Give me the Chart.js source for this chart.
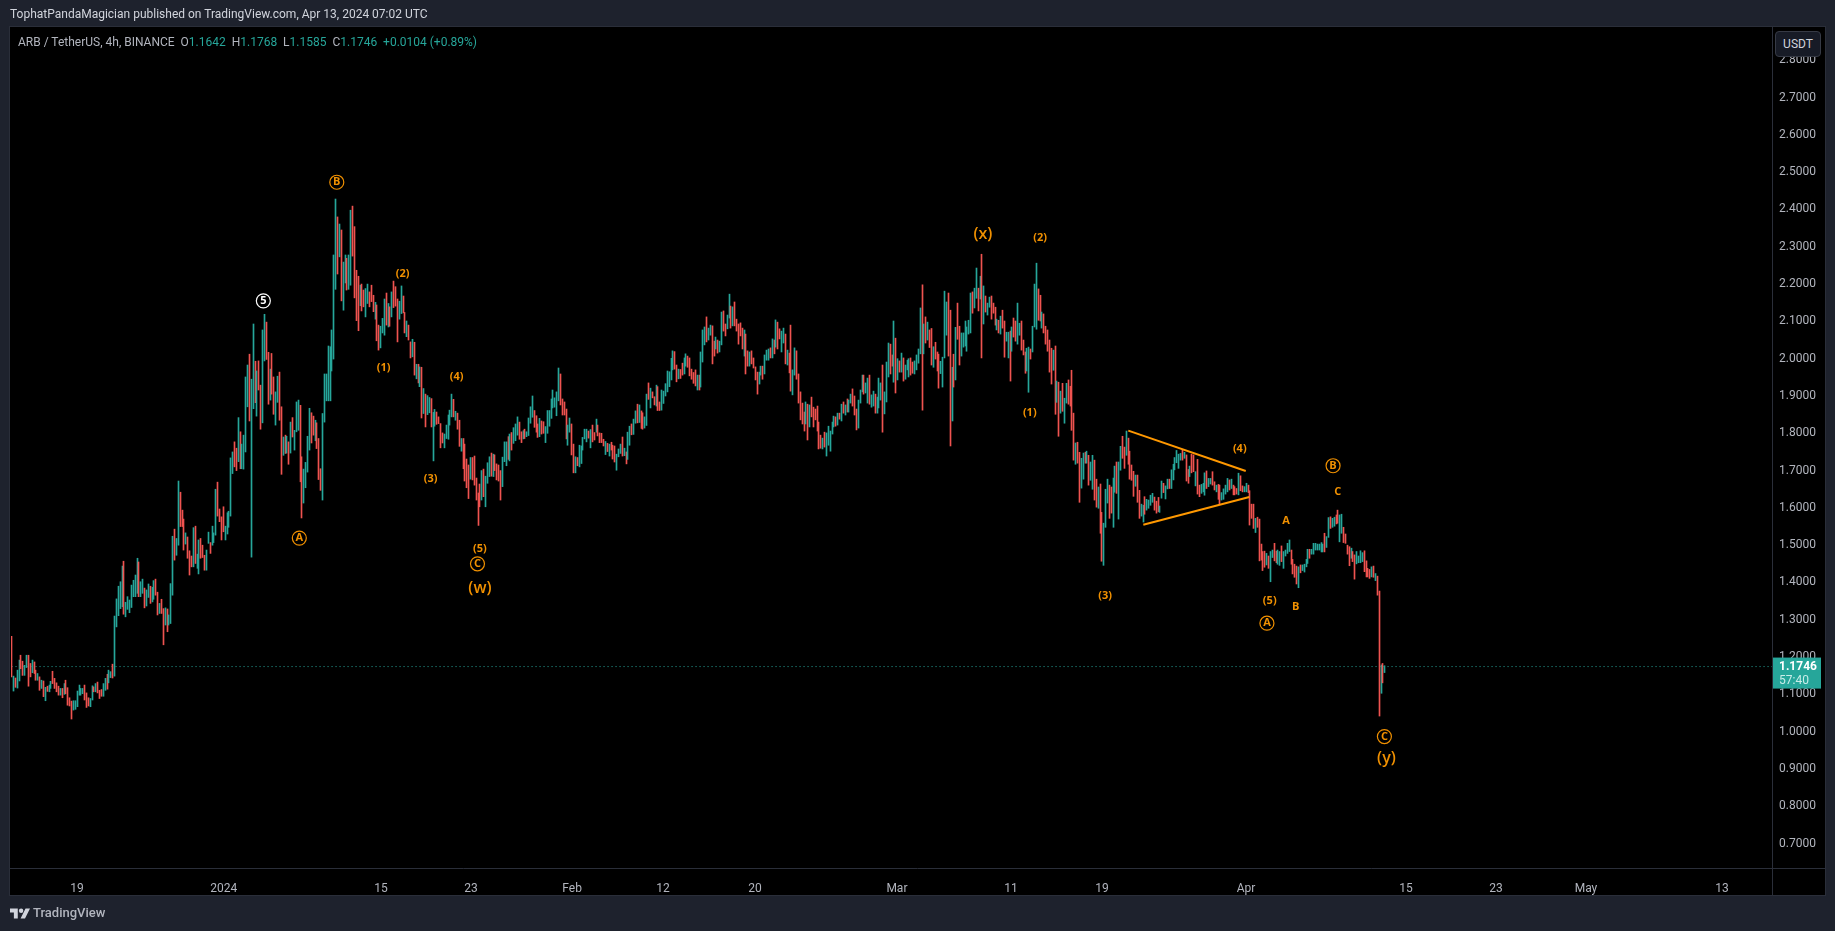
<!DOCTYPE html>
<html>
<head>
<meta charset="utf-8">
<title>ARB / TetherUS</title>
<script src="https://cdn.jsdelivr.net/npm/chart.js@4"></script>
<style>
html, body { margin: 0; padding: 0; background: #1e222d; overflow: hidden; }
body { width: 1835px; height: 931px; position: relative; font-family: Roboto, sans-serif; font-size: 12px; }
canvas { position: absolute; left: 0; top: 0; }
.txt { position: absolute; white-space: pre; }
#head { left: 10px; top: 7px; color: #d1d4dc; }
#legend { left: 18px; top: 35px; color: #b2b5be; }
#legend b { font-weight: 400; color: #26a69a; }
#cur { left: 1775px; top: 31px; width: 44px; height: 24px; line-height: 24px; text-align: center; color: #d1d4dc;
  background: #171b26; border: 1px solid #363a45; border-radius: 4px; }
#logo { left: 10px; top: 906px; }
#brand { left: 33px; top: 905px; color: #b2b5be; font-size: 13px; font-weight: 500; }
</style>
</head>
<body>
<canvas id="chart" width="1835" height="931"></canvas>
<div class="txt" id="head">TophatPandaMagician published on TradingView.com, Apr 13, 2024 07:02 UTC</div>
<div class="txt" id="legend">ARB / TetherUS, 4h, BINANCE  O<b>1.1642</b>  H<b>1.1768</b>  L<b>1.1585</b>  C<b>1.1746</b>  <b>+0.0104 (+0.89%)</b></div>
<div class="txt" id="cur">USDT</div>
<svg class="txt" id="logo" width="20" height="14" viewBox="0 0 36 24"><path fill="#d1d4dc" d="M14 4H0v7h7v11h7zM28 4h8l-9 18h-8z"/><circle fill="#d1d4dc" cx="20" cy="8" r="4"/></svg>
<div class="txt" id="brand">TradingView</div>
<script>
// one entry per 4h bar
var highs = [
1.256,1.149,1.144,1.165,1.192,1.205,1.189,1.178,1.205,1.205,
1.183,1.192,1.187,1.165,1.156,1.147,1.138,1.136,1.119,1.122,
1.125,1.135,1.162,1.143,1.131,1.122,1.116,1.116,1.129,1.138,
1.118,1.091,1.082,1.083,1.083,1.109,1.125,1.116,1.116,1.125,
1.104,1.091,1.089,1.123,1.120,1.129,1.133,1.111,1.113,1.129,
1.143,1.154,1.165,1.161,1.181,1.310,1.356,1.390,1.402,1.444,
1.457,1.347,1.362,1.353,1.393,1.406,1.420,1.465,1.455,1.402,
1.409,1.385,1.380,1.396,1.390,1.387,1.405,1.409,1.374,1.344,
1.355,1.330,1.332,1.329,1.313,1.397,1.524,1.543,1.518,1.672,
1.642,1.594,1.570,1.533,1.522,1.485,1.471,1.547,1.551,1.476,
1.514,1.518,1.500,1.473,1.487,1.535,1.507,1.551,1.533,1.650,
1.669,1.597,1.576,1.603,1.551,1.587,1.591,1.734,1.750,1.777,1.760,1.842,
1.804,1.771,1.795,1.951,1.983,2.012,1.945,2.093,1.993,1.967,
1.994,1.929,2.077,2.119,2.098,2.017,1.972,2.014,1.951,1.911,
1.953,1.964,1.871,1.790,1.795,1.792,1.777,1.830,1.842,1.808,
1.884,1.889,1.875,1.737,1.704,1.722,1.792,1.867,1.855,1.846,
1.835,1.828,1.786,1.705,1.853,1.959,1.959,2.034,2.032,2.077,
2.278,2.428,2.380,2.361,2.345,2.259,2.278,2.269,2.278,2.398,
2.409,2.354,2.237,2.221,2.197,2.200,2.184,2.188,2.200,2.179,
2.197,2.170,2.151,2.144,2.090,2.087,2.108,2.160,2.176,2.148,
2.139,2.179,2.208,2.193,2.160,2.154,2.195,2.168,2.124,2.101,
2.090,2.045,2.052,2.044,1.985,1.985,1.978,1.977,1.920,1.905,
1.901,1.896,1.893,1.856,1.864,1.857,1.844,1.826,1.801,1.798,
1.822,1.849,1.862,1.905,1.891,1.859,1.854,1.835,1.786,1.786,
1.771,1.731,1.715,
1.735,1.735,1.739,1.680,1.640,1.664,1.700,1.704,1.685,1.721,
1.737,1.747,1.744,1.742,1.718,1.715,1.700,1.736,1.777,1.777,
1.791,1.798,1.802,1.815,1.825,1.844,1.830,1.804,1.807,1.811,
1.804,1.841,1.871,1.900,1.861,1.847,1.825,1.840,1.833,1.831,
1.818,1.861,1.861,1.892,1.916,1.895,1.911,1.975,1.959,1.892,
1.884,1.865,1.822,1.841,1.825,1.771,1.737,1.735,1.768,1.766,
1.789,1.811,1.811,1.806,1.810,1.822,1.802,1.838,1.822,1.801,
1.800,1.784,1.778,1.773,1.771,1.776,1.768,1.766,1.744,1.758,
1.771,1.790,1.760,1.750,1.803,1.819,1.825,1.838,1.860,1.878,
1.876,1.860,1.855,1.844,1.905,1.935,1.921,1.911,1.898,1.929,
1.925,1.884,1.916,1.913,1.933,1.967,1.965,2.001,2.021,2.019,
1.983,1.972,1.971,1.988,2.002,2.013,2.007,2.002,1.972,1.963,1.970,1.956,
1.956,2.018,2.077,2.085,2.112,2.082,2.090,2.088,2.047,2.058,
2.050,2.047,2.125,2.128,2.093,2.117,2.173,2.141,2.139,2.152,
2.106,2.093,2.096,2.082,2.077,2.066,2.021,2.018,2.021,2.002,
1.978,1.964,1.964,1.980,1.980,2.010,2.023,2.026,2.029,2.053,
2.050,2.104,2.098,2.080,2.074,2.082,2.066,2.023,2.015,2.090,
1.970,2.029,2.021,1.959,1.911,1.881,1.857,1.884,1.878,1.876,
1.897,1.870,1.865,1.873,1.830,1.795,1.787,1.803,1.801,1.819,
1.806,1.830,1.846,1.844,1.854,1.854,1.878,1.884,1.876,1.892,
1.889,1.905,1.919,1.900,1.865,1.889,1.916,1.956,1.956,1.935,
1.948,1.956,1.903,1.913,1.905,1.897,1.948,1.935,1.983,1.911,
1.991,2.042,2.039,2.010,2.101,2.055,2.000,1.994,2.015,2.002,
1.983,1.996,2.000,2.002,1.991,1.994,2.010,2.026,2.136,2.198,2.093,2.112,2.098,
2.077,2.081,2.032,2.044,2.018,2.012,1.993,2.004,2.181,2.152,
2.176,2.130,1.977,2.012,2.084,2.149,2.087,2.069,2.069,2.101,
2.085,2.103,2.176,2.179,2.189,2.243,2.189,2.221,2.280,2.195,
2.168,2.149,2.165,2.168,2.149,2.138,2.106,2.103,2.114,2.130,
2.101,2.071,2.071,2.074,2.085,2.109,2.101,2.149,2.095,2.101,
2.050,2.018,2.028,2.031,2.026,2.087,2.200,2.256,2.187,2.170,
2.125,2.120,2.087,2.077,2.050,2.028,2.023,2.034,1.940,1.937,
1.913,1.934,1.894,1.934,1.943,1.926,1.969,1.854,1.774,1.776,
1.749,1.733,1.747,1.749,1.752,1.741,1.723,1.741,1.728,1.677,
1.656,1.664,1.588,1.559,1.650,1.677,1.661,1.656,1.680,1.712,
1.723,1.723,1.765,1.792,1.763,1.806,1.787,1.752,1.715,1.698,
1.688,1.688,1.647,1.610,1.607,1.630,1.623,1.621,1.634,1.639,1.629,1.618,
1.628,1.605,1.672,1.666,1.659,1.677,1.677,1.702,1.717,1.735,
1.754,1.744,1.746,1.757,1.749,1.742,1.703,1.712,1.744,1.742,
1.697,1.730,1.661,1.663,1.666,1.694,1.699,1.679,1.679,1.697,
1.670,1.661,1.663,1.661,1.641,1.651,1.661,1.679,1.675,1.677,
1.661,1.657,1.652,1.693,1.686,1.659,1.657,1.666,1.661,1.646,
1.610,1.610,1.572,1.575,1.570,1.503,1.483,1.484,1.478,1.471,
1.483,1.487,1.505,1.484,1.487,1.483,1.498,1.483,1.487,1.505,
1.514,1.487,1.462,1.449,1.444,1.442,1.447,1.447,1.449,1.462,
1.489,1.489,1.489,1.505,1.505,1.503,1.503,1.507,1.503,1.532,
1.523,1.574,1.576,1.572,1.575,1.581,1.594,1.581,1.583,1.548,
1.530,1.500,1.496,1.492,1.483,1.474,1.483,1.471,1.485,1.480,
1.485,1.458,1.438,1.435,1.442,1.444,1.424,1.417,1.377,1.179,1.183,1.1768
];
var lows = [
1.147,1.109,1.119,1.117,1.136,1.169,1.151,1.151,1.172,1.122,
1.147,1.158,1.156,1.138,1.138,1.111,1.116,1.094,1.083,1.108,
1.107,1.116,1.129,1.116,1.107,1.098,1.098,1.091,1.100,1.102,
1.071,1.069,1.034,1.058,1.060,1.067,1.098,1.098,1.102,1.085,
1.065,1.069,1.067,1.085,1.107,1.107,1.104,1.089,1.095,1.095,
1.111,1.114,1.131,1.145,1.144,1.149,1.281,1.311,1.330,1.335,
1.315,1.308,1.328,1.319,1.333,1.362,1.362,1.371,1.362,1.362,
1.371,1.332,1.337,1.360,1.344,1.348,1.355,1.366,1.313,1.317,
1.317,1.233,1.286,1.268,1.286,1.290,1.366,1.460,1.473,1.500,
1.550,1.550,1.487,1.503,1.465,1.420,1.442,1.442,1.451,1.438,
1.423,1.465,1.467,1.433,1.433,1.505,1.478,1.500,1.507,1.527,
1.578,1.563,1.514,1.536,1.514,1.530,1.548,1.578,1.692,1.710,1.700,1.724,
1.705,1.705,1.704,1.750,1.871,1.833,1.468,1.866,1.882,1.846,
1.916,1.811,1.828,1.994,1.998,1.878,1.889,1.905,1.851,1.822,
1.883,1.835,1.690,1.741,1.746,1.747,1.717,1.747,1.790,1.755,
1.804,1.808,1.670,1.573,1.613,1.654,1.696,1.755,1.774,1.795,
1.780,1.759,1.676,1.647,1.621,1.830,1.887,1.887,1.887,1.967,
1.999,2.186,2.227,2.273,2.155,2.130,2.203,2.184,2.186,2.197,
2.275,2.163,2.102,2.075,2.142,2.128,2.139,2.112,2.148,2.139,
2.153,2.126,2.106,2.048,2.023,2.029,2.069,2.063,2.090,2.085,
2.087,2.112,2.137,2.141,2.045,2.106,2.121,2.123,2.069,2.059,
2.050,2.002,2.005,1.956,1.946,1.935,1.925,1.841,1.853,1.817,
1.850,1.855,1.817,1.726,1.819,1.824,1.826,1.761,1.774,1.761,
1.786,1.784,1.822,1.844,1.844,1.835,1.811,1.765,1.752,1.705,
1.672,1.654,1.625,
1.677,1.675,1.661,1.621,1.553,1.603,1.621,1.630,1.603,1.666,
1.684,1.685,1.684,1.700,1.675,1.672,1.621,1.657,1.724,1.713,
1.730,1.726,1.755,1.773,1.780,1.795,1.784,1.775,1.785,1.786,
1.791,1.794,1.827,1.843,1.816,1.803,1.789,1.791,1.798,1.800,
1.775,1.800,1.819,1.840,1.868,1.870,1.847,1.887,1.876,1.849,
1.849,1.785,1.768,1.803,1.742,1.694,1.694,1.713,1.710,1.719,
1.755,1.785,1.777,1.787,1.761,1.777,1.782,1.803,1.793,1.775,
1.775,1.766,1.743,1.751,1.739,1.755,1.731,1.723,1.701,1.737,
1.746,1.739,1.740,1.718,1.730,1.768,1.796,1.797,1.827,1.828,
1.829,1.813,1.811,1.814,1.821,1.891,1.868,1.895,1.876,1.873,
1.861,1.861,1.862,1.880,1.900,1.911,1.925,1.943,1.970,1.972,
1.938,1.946,1.947,1.956,1.959,1.980,1.977,1.954,1.945,1.934,1.927,1.916,
1.916,1.924,1.991,2.037,2.045,2.050,2.063,1.986,2.007,2.026,
2.015,2.018,2.037,2.074,2.061,2.080,2.109,2.082,2.088,2.088,
2.074,2.039,2.061,2.026,2.007,1.959,1.980,1.980,1.986,1.975,
1.943,1.905,1.932,1.956,1.945,1.959,1.996,1.996,2.002,2.002,
2.013,2.031,2.026,2.053,2.018,2.042,1.986,1.983,1.962,1.913,
1.903,1.956,1.945,1.881,1.836,1.825,1.806,1.825,1.782,1.817,
1.844,1.817,1.836,1.806,1.758,1.760,1.758,1.763,1.739,1.768,
1.752,1.798,1.817,1.819,1.822,1.838,1.833,1.854,1.849,1.857,
1.857,1.881,1.873,1.849,1.809,1.814,1.881,1.911,1.905,1.908,
1.881,1.878,1.870,1.873,1.854,1.854,1.868,1.889,1.803,1.852,
1.884,1.951,1.959,1.980,1.937,1.908,1.943,1.964,1.964,1.940,
1.945,1.970,1.951,1.956,1.961,1.959,1.970,1.988,2.013,1.862,2.013,2.042,2.050,
2.030,1.983,1.977,1.999,1.967,1.921,1.960,1.924,2.002,2.063,
2.007,1.766,1.833,1.924,1.943,2.052,1.983,2.007,2.031,2.034,
2.020,2.066,2.069,2.122,2.136,2.162,2.128,2.160,2.002,2.093,
2.125,2.117,2.138,2.106,2.122,2.090,2.077,2.069,2.066,2.082,
2.004,2.047,2.002,1.940,2.020,2.058,2.047,2.039,2.063,2.023,
2.010,1.961,1.967,1.910,1.999,2.018,2.085,2.079,2.103,2.101,
2.082,2.069,2.039,2.020,1.964,1.932,1.969,1.851,1.883,1.792,
1.854,1.859,1.827,1.881,1.878,1.873,1.808,1.728,1.717,1.720,
1.615,1.653,1.677,1.720,1.720,1.661,1.674,1.650,1.621,1.602,
1.599,1.532,1.457,1.446,1.548,1.613,1.572,1.586,1.548,1.642,
1.639,1.570,1.701,1.733,1.706,1.741,1.717,1.677,1.674,1.631,
1.658,1.615,1.572,1.578,1.562,1.583,1.594,1.599,1.607,1.615,1.594,1.586,
1.590,1.588,1.626,1.641,1.624,1.651,1.652,1.652,1.675,1.702,
1.721,1.706,1.728,1.728,1.733,1.672,1.666,1.684,1.694,1.697,
1.659,1.637,1.630,1.639,1.643,1.634,1.652,1.657,1.664,1.661,
1.648,1.643,1.623,1.610,1.621,1.623,1.637,1.643,1.648,1.652,
1.635,1.635,1.637,1.635,1.646,1.643,1.643,1.643,1.641,1.554,
1.572,1.545,1.534,1.548,1.458,1.460,1.432,1.441,1.447,1.438,
1.402,1.467,1.458,1.453,1.449,1.446,1.456,1.438,1.471,1.478,
1.483,1.449,1.423,1.414,1.396,1.386,1.426,1.432,1.428,1.442,
1.451,1.465,1.476,1.476,1.487,1.487,1.487,1.482,1.482,1.482,
1.494,1.521,1.545,1.548,1.551,1.557,1.559,1.509,1.532,1.507,
1.505,1.476,1.445,1.465,1.456,1.409,1.450,1.453,1.453,1.456,
1.429,1.415,1.415,1.411,1.415,1.414,1.405,1.366,1.042,1.103,1.131,1.1585
];
// u = close above open, d = close below open
var dirs = `
d u d u u d d u u d  d u d d u d u d u d  u u d d d d u d u d  d d d u u u u u u d
d d u u d u d d d u  u d u u d u u u u u  d u u u u u u u d u  u d u u d u u d d u
d d u d u u u d u u  d d d u d d d u d u  u d d d u u d u u u  d d d d u u u u u d
d u
d u u u u d u u d u  d d u u d d u d d u  u d d u d u d u d u  u u d d u u u u d d
u d d d u u u u u u  u u d u d u u d u u  d d d d u d d u u d  d d u d d u u u d u
d u d d d u u d d u  d d u d u d u d u d  u u d u u d d d d u  u u u u d u d d u d
d d d
u d d d d d u d u u  u d u d d d d u u u  d u d u u u d d u d  u u u u d d d u d d
u u u u u u u u d d  d d u u d d u d u u  u u u d u d d u d d  d d u d u d d d u u
u d u d u u d u u d  u d d u u d u d d u  d d u u u u u u u d
d u d d u u d d d d d u
d u u u d u u d d u  d u u d d u u d u d  d d d d u d d u d d  d d u u d u u u d u
d u d d u u d u d d  u u d d d d d u d u  d d d d d d u d u u  u u u d u d u d u d
u u d d d u u u d u  u d u u d u u u d u  u u d d u d u d u d
u u u d d u u u u d u d u
d d u d d d u u u u  d d u d u d d u u u  u u u d u u d u d u  d u u d d d u d u d
d u u d u d d u u d  d d u u d u u u d d  u d d d d d u d u d  u d u u d d d d u d
d u u d u d u u d d  u d d u u u d d u u  d u u d d u d d d d
u d d u u d u u u u d d
d u u d u u d u u u  u u u d u d d u d d  u d d u u u d u u d  d u d d u u u u d u
d d d u d d u u d d  d d u d d d d d u d  u u d d u u d u u u  u d d d d u d u u u
u d u u u u u u u d  u u d u u d d u u d  d d d u d d u u u u  d d d d u d u d d u d u
`.trim().split(/\s+/);

var lastPrice = 1.1746;
var lastCountdown = '57:40';

var priceTicks = [0.7,0.8,0.9,1.0,1.1,1.2,1.3,1.4,1.5,1.6,1.7,1.8,1.9,2.0,2.1,2.2,2.3,2.4,2.5,2.6,2.7,2.8];
var timeLabels = ['19','2024','15','23','Feb','12','20','Mar','11','19','Apr','15','23','May','13'];
var timeBars = [34.9,113.2,197.2,245.2,299.2,347.7,396.8,472.6,533.5,582.1,658.9,744.3,792.4,840.4,913.0];

// triangle drawn on the chart
var triangleTopBars = [596.1,658.8];
var triangleTopPrices = [1.807,1.699];
var triangleLowBars = [604.1,660.7];
var triangleLowPrices = [1.555,1.629];

// wave counts
var smallTexts = ['(2)','(1)','(4)','(3)','(5)','(2)','(1)','(3)','(4)','A','C','(5)','B'];
var smallBars = [208.8,198.6,237.6,223.7,250.0,549.0,543.5,583.7,655.6,680.3,707.9,671.6,685.5];
var smallPrices = [2.228,1.976,1.952,1.679,1.490,2.325,1.854,1.364,1.759,1.565,1.643,1.351,1.334];
var bigTexts = ['(w)','(x)','(y)'];
var bigBars = [250.0,518.5,733.9];
var bigPrices = [1.383,2.334,0.929];
var circleTexts = ['5','B','A','C','B','A','C'];
var circleBars = [134.4,173.6,153.6,248.7,705.4,670.1,732.8];
var circlePrices = [2.155,2.473,1.519,1.450,1.713,1.291,0.987];

if (highs.length != lows.length || highs.length != dirs.length) {
    throw new Error('bars ' + highs.length + ' ' + lows.length + ' ' + dirs.length);
}

var upColor = '#26a69a';
var downColor = '#ef5350';
var orange = '#f09000';
var axisText = '#b2b5be';
var lineColor = '#2a2e39';
var xMax = 939.7;

var barData = highs.map(function (h, i) { return { x: i, y: [lows[i], h] }; });
var barColors = dirs.map(function (d) { return d == 'u' ? upColor : downColor; });

function pairs(xs, ys) {
    return xs.map(function (x, i) { return { x: x, y: ys[i] }; });
}

var chrome = {
    id: 'chrome',
    // keep each bar on a whole pixel, like the original
    afterDatasetsUpdate: function (chart) {
        chart.getDatasetMeta(3).data.forEach(function (el) {
            el.x = Math.floor(el.x) + 0.5;
        });
    },
    beforeDraw: function (chart) {
        var c = chart.ctx;
        c.fillStyle = '#1e222d';
        c.fillRect(0, 0, 1835, 931);
        c.fillStyle = '#000000';
        c.fillRect(10, 27, 1815, 868);
        c.strokeStyle = lineColor;
        c.lineWidth = 1;
        c.strokeRect(9.5, 26.5, 1816, 869);
        var a = chart.chartArea;
        c.beginPath();
        c.moveTo(a.right + 0.5, 27);
        c.lineTo(a.right + 0.5, 895);
        c.moveTo(10, a.bottom + 0.5);
        c.lineTo(1825, a.bottom + 0.5);
        c.stroke();
    },
    afterDraw: function (chart) {
        var c = chart.ctx;
        var xs = chart.scales.x;
        var ys = chart.scales.y;
        var right = chart.chartArea.right;
        var i, px, py;

        c.textAlign = 'center';
        c.textBaseline = 'middle';
        c.fillStyle = orange;
        c.font = 'bold 11px "Open Sans"';
        for (i = 0; i < smallTexts.length; i++) {
            c.fillText(smallTexts[i], xs.getPixelForValue(smallBars[i]), ys.getPixelForValue(smallPrices[i]));
        }
        c.font = '600 16px "Open Sans"';
        for (i = 0; i < bigTexts.length; i++) {
            c.fillText(bigTexts[i], xs.getPixelForValue(bigBars[i]), ys.getPixelForValue(bigPrices[i]));
        }
        c.font = 'bold 11px "Open Sans"';
        c.lineWidth = 1.2;
        for (i = 0; i < circleTexts.length; i++) {
            px = xs.getPixelForValue(circleBars[i]);
            py = ys.getPixelForValue(circlePrices[i]);
            c.strokeStyle = c.fillStyle = circleTexts[i] == '5' ? '#ffffff' : orange;
            c.beginPath();
            c.arc(px, py, 7, 0, Math.PI * 2);
            c.stroke();
            c.fillText(circleTexts[i], px, py);
        }

        // top of the scale sits under the currency button
        c.fillStyle = '#000000';
        c.fillRect(right + 1, 27.5, 52, 29.5);

        // last price tag
        py = ys.getPixelForValue(lastPrice);
        c.fillStyle = upColor;
        c.fillRect(right + 1, py - 9, 48, 31);
        c.textAlign = 'left';
        c.fillStyle = '#ffffff';
        c.font = 'bold 12px Roboto';
        c.fillText(lastPrice.toFixed(4), 1779, py);
        c.fillStyle = '#c9ede9';
        c.font = '12px Roboto';
        c.fillText(lastCountdown, 1779, py + 14);
    }
};

new Chart(document.getElementById('chart'), {
    data: {
        datasets: [
            {
                type: 'line',
                data: pairs(triangleTopBars, triangleTopPrices),
                borderColor: '#ff9800',
                borderWidth: 2,
                pointRadius: 0,
                order: 0
            },
            {
                type: 'line',
                data: pairs(triangleLowBars, triangleLowPrices),
                borderColor: '#ff9800',
                borderWidth: 2,
                pointRadius: 0,
                order: 0
            },
            {
                type: 'line',
                data: pairs([0, xMax], [lastPrice, lastPrice]),
                borderColor: upColor,
                borderWidth: 1,
                borderDash: [1, 3],
                pointRadius: 0,
                order: 2
            },
            {
                type: 'bar',
                data: barData,
                backgroundColor: barColors,
                barThickness: 1,
                order: 1
            }
        ]
    },
    options: {
        responsive: false,
        animation: false,
        layout: { padding: { left: 11, right: 10, top: 27, bottom: 36 } },
        plugins: { legend: { display: false }, tooltip: { enabled: false } },
        scales: {
            x: {
                type: 'linear',
                min: -0.3,
                max: xMax,
                offset: false,
                grid: { display: false },
                border: { display: false },
                afterBuildTicks: function (s) {
                    s.ticks = timeBars.map(function (v) { return { value: v }; });
                },
                afterFit: function (s) { s.height = 27; },
                ticks: {
                    autoSkip: false,
                    maxRotation: 0,
                    color: axisText,
                    font: { family: 'Roboto', size: 12 },
                    padding: 6,
                    callback: function (v) { return timeLabels[timeBars.indexOf(v)]; }
                }
            },
            y: {
                type: 'linear',
                position: 'right',
                min: 0.6346,
                max: 2.8892,
                grid: { display: false },
                border: { display: false },
                afterBuildTicks: function (s) {
                    s.ticks = priceTicks.map(function (v) { return { value: v }; });
                },
                afterFit: function (s) { s.width = 53; },
                ticks: {
                    autoSkip: false,
                    color: axisText,
                    font: { family: 'Roboto', size: 12 },
                    padding: -1,
                    callback: function (v) { return v.toFixed(4); }
                }
            }
        }
    },
    plugins: [chrome]
});
</script>
</body>
</html>
